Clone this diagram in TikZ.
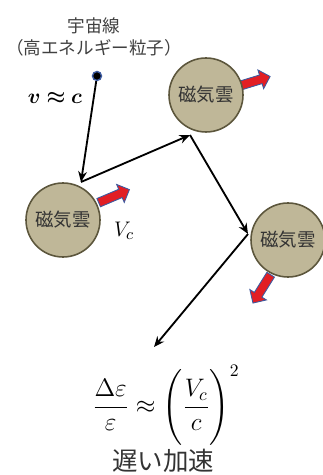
\documentclass[tikz,border=0pt]{standalone}
\usepackage{amsmath,bm}
\usepackage{fontspec}
\newfontfamily\jpfont{Noto Sans CJK JP}
\usetikzlibrary{arrows.meta,shapes.arrows}

\definecolor{cloudfill}{RGB}{191,183,152}
\definecolor{cloudedge}{RGB}{92,86,60}
\definecolor{driftred}{RGB}{226,30,36}
\definecolor{driftedge}{RGB}{60,90,160}

\begin{document}
\begin{tikzpicture}[x=0.02cm,y=-0.02cm,
    cloud/.style={circle, draw=cloudedge, line width=0.9pt, fill=cloudfill,
      minimum size=74*0.02cm, inner sep=0pt, font=\jpfont\fontsize{10.5}{12}\selectfont, text=black!80},
    ray/.style={line width=1.05pt, -{Stealth[length=6pt,width=5pt]}},
    drift/.style={single arrow, draw=driftedge, line width=0.5pt, fill=driftred,
      inner sep=2.3pt, single arrow head extend=3pt, minimum height=19pt,
      single arrow head indent=0pt}]

    \useasboundingbox (0,0) rectangle (323,475);

    % cosmic ray particle
    \node[font=\jpfont\fontsize{10}{13}\selectfont, text=black!75, align=center] (title) at (94,37)
      {宇宙線\\（高エネルギー粒子）};
    \node[circle, fill=black, draw=driftedge, line width=0.8pt, minimum size=9*0.02cm, inner sep=0pt] (cr) at (97,76) {};
    \node[font=\fontsize{12.5}{15}\selectfont] (vlabel) at (55,98) {$\bm{v\approx c}$};

    % moving clouds with their velocities
    \node[drift, rotate=23] (v1) at (112,197) {};
    \node[drift, rotate=17] (v2) at (252,82) {};
    \node[drift, rotate=-122] (v3) at (263,287) {};

    \node[cloud] (cloud1) at (63,220) {磁気雲};
    \node[cloud] (cloud2) at (206,95) {磁気雲};
    \node[cloud] (cloud3) at (288,240) {磁気雲};

    \node[font=\fontsize{13}{15}\selectfont] (vc) at (124,231) {$V_c$};

    % reflections
    \coordinate (hit1) at (81,182);
    \coordinate (hit2) at (190,135);
    \coordinate (hit3) at (248,234);
    \coordinate (out) at (154,347);

    \draw[ray] (cr) -- (hit1);
    \draw[ray] (hit1) -- (hit2);
    \draw[ray] (hit2) -- (hit3);
    \draw[ray] (hit3) -- (out);

    % energy gain
    \node[font=\fontsize{14}{16}\selectfont] (gain) at (166,405)
      {$\displaystyle\frac{\Delta\varepsilon}{\varepsilon}\approx\Biggl(\frac{V_c}{c}\Biggr)^{2}$};
    \node[font=\jpfont\fontsize{14.5}{16}\selectfont, text=black!80] (slow) at (163,461) {遅い加速};

\end{tikzpicture}
\end{document}
